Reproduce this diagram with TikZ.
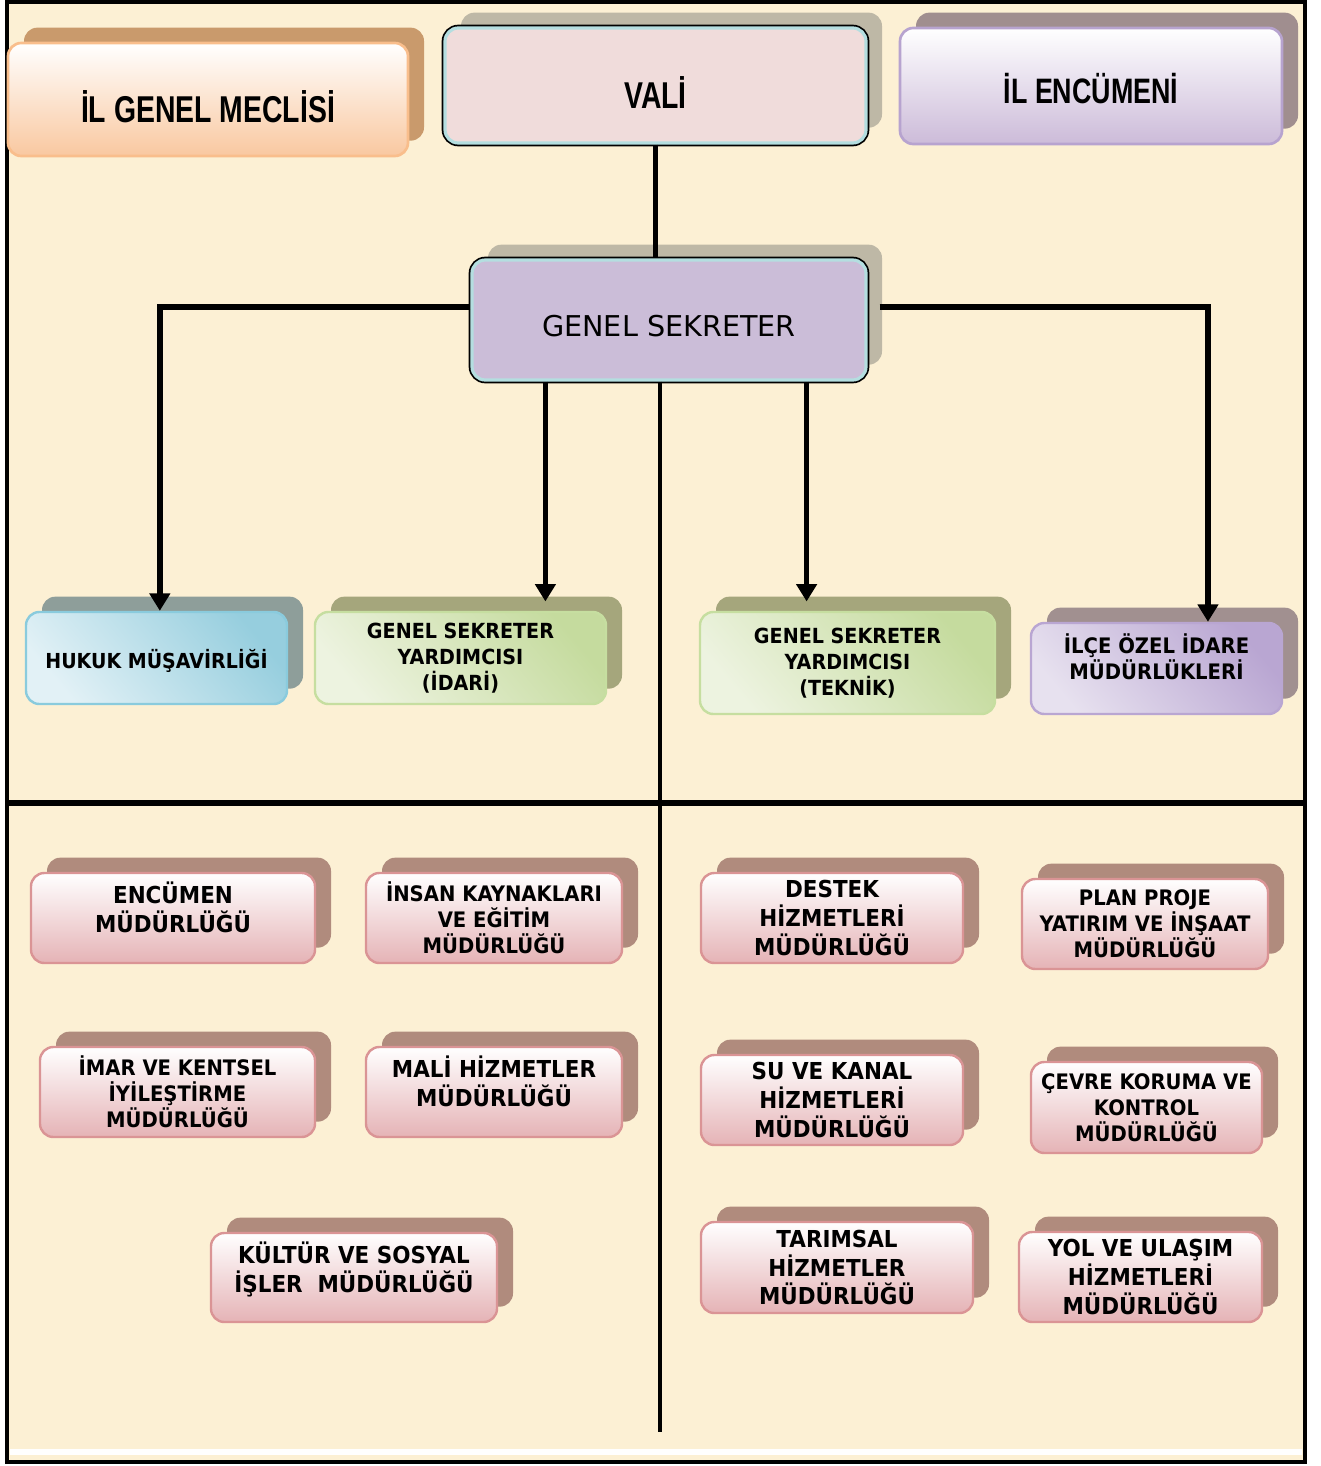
\documentclass[tikz,border=0pt]{standalone}
\usepackage{fontspec}
\newfontfamily\narrowfont{Liberation Sans}[FakeStretch=0.76]
\newfontfamily\boxfont{DejaVu Sans}[FakeStretch=0.92]
\newfontfamily\plainfont{DejaVu Sans}
\usetikzlibrary{arrows.meta,shadows}

% Colours
\definecolor{paper}{RGB}{252,240,212}
\definecolor{peach}{RGB}{249,200,160}
\definecolor{peachline}{RGB}{249,190,140}
\definecolor{peachshadow}{RGB}{201,154,108}
\definecolor{valifill}{RGB}{240,220,219}
\definecolor{cyanline}{RGB}{180,222,224}
\definecolor{greyshadow}{RGB}{190,184,166}
\definecolor{lilac}{RGB}{204,187,217}
\definecolor{lilacline}{RGB}{183,163,207}
\definecolor{mauveshadow}{RGB}{160,142,143}
\definecolor{gsfill}{RGB}{203,189,216}
\definecolor{bluedark}{RGB}{150,206,222}
\definecolor{bluelight}{RGB}{226,241,246}
\definecolor{blueline}{RGB}{138,203,221}
\definecolor{blueshadow}{RGB}{142,158,154}
\definecolor{greendark}{RGB}{197,219,158}
\definecolor{greenlight}{RGB}{237,243,224}
\definecolor{greenline}{RGB}{198,222,160}
\definecolor{greenshadow}{RGB}{165,166,124}
\definecolor{purpledark}{RGB}{185,166,210}
\definecolor{purplelight}{RGB}{231,225,239}
\definecolor{purpleshadow}{RGB}{161,144,144}
\definecolor{rose}{RGB}{229,179,182}
\definecolor{roseline}{RGB}{218,148,149}
\definecolor{roseshadow}{RGB}{176,139,125}

\tikzset{
	size/.style 2 args={minimum width=#1*0.75pt, minimum height=#2*0.75pt},
	card/.style={rounded corners=10pt, align=center, inner sep=2pt,
		general shadow={fill=#1, shadow xshift=12pt, shadow yshift=11.5pt}},
	topfont/.style={font=\narrowfont\bfseries\fontsize{28}{30}\selectfont},
	keycard/.style={card=greyshadow, preaction={draw=black, line width=5pt},
		draw=cyanline, line width=2.4pt},
	tint/.style 2 args={top color=#1, bottom color=#2, shading angle=-50},
	unitcard/.style={card=#1, line width=1.8pt,
		font=\boxfont\bfseries\fontsize{15.6}{19.5}\selectfont},
	office/.style={card=roseshadow, draw=roseline, line width=1.8pt,
		top color=white, bottom color=rose,
		font=\boxfont\bfseries\fontsize{17.5}{21.5}\selectfont},
	small/.style={font=\boxfont\bfseries\fontsize{16}{19.5}\selectfont},
	lifttext/.style={text depth=#1},
	link/.style={line width=4pt},
	arrow/.style={link, -{Triangle[width=15pt,length=13pt]}},
	divider/.style={line width=3pt}
}

\begin{document}
\begin{tikzpicture}[x=0.75pt, y=-0.75pt]
	\useasboundingbox (0,0) rectangle (1320,1466);
	
	% Paper and frame
	\fill[paper] (7,2) rectangle (1305,1462);
	\draw[white, line width=4.5pt] (10,1452) -- (1302,1452);
	\draw[line width=2.5pt] (7,2) rectangle (1305,1462);
	
	% Top row
	\node[card=peachshadow, topfont, draw=peachline, line width=2pt,
		top color=white, bottom color=peach, size={400}{113}, text height=35pt]
		(meclis) at (208,99.5) {İL GENEL MECLİSİ};
	\node[keycard, fill=valifill, topfont, size={421}{115}, text height=35pt]
		(vali) at (655.5,85.5) {VALİ};
	\node[card=mauveshadow, draw=lilacline, line width=2pt, top color=white,
		bottom color=lilac, font=\narrowfont\bfseries\fontsize{26.5}{30}\selectfont,
		size={382}{116}, text height=26pt]
		(encumeni) at (1091,86) {İL ENCÜMENİ};
	
	% Genel sekreter
	\node[keycard, fill=gsfill, font=\plainfont\fontsize{21.5}{26}\selectfont,
		size={394}{120}, text height=24.5pt] (gs) at (669,320) {GENEL SEKRETER};
	
	% Second row
	\node[unitcard=blueshadow, draw=blueline, tint={bluedark}{bluelight},
		font=\boxfont\bfseries\fontsize{15.5}{19.5}\selectfont,
		size={261}{92}, text height=19pt] (hukuk) at (156.5,658) {HUKUK MÜŞAVİRLİĞİ};
	\node[unitcard=greenshadow, draw=greenline, tint={greendark}{greenlight},
		size={291}{92}] (gsyi) at (460.5,658) {GENEL SEKRETER\\YARDIMCISI\\(İDARİ)};
	\node[unitcard=greenshadow, draw=greenline, tint={greendark}{greenlight},
		size={295}{102}] (gsyt) at (847.5,663) {GENEL SEKRETER\\YARDIMCISI\\(TEKNİK)};
	\node[unitcard=purpleshadow, draw=purpledark, tint={purpledark}{purplelight},
		font=\boxfont\bfseries\fontsize{16}{19.5}\selectfont, lifttext=18pt,
		size={251}{91}] (ilce) at (1156.5,668.5) {İLÇE ÖZEL İDARE\\MÜDÜRLÜKLERİ};
	
	% Directorates, left half
	\node[office, size={284}{90}, lifttext=16pt] (encumen) at (173,918)
		{ENCÜMEN\\MÜDÜRLÜĞÜ};
	\node[office, small, size={256}{90}] (insan) at (494,918)
		{İNSAN KAYNAKLARI\\VE EĞİTİM\\MÜDÜRLÜĞÜ};
	\node[office, small, size={275}{90}] (imar) at (177.5,1092)
		{İMAR VE KENTSEL\\İYİLEŞTİRME\\MÜDÜRLÜĞÜ};
	\node[office, size={256}{90}, lifttext=16pt] (mali) at (494,1092)
		{MALİ HİZMETLER\\MÜDÜRLÜĞÜ};
	\node[office, size={286}{89}, lifttext=16pt] (kultur) at (354,1277.5)
		{KÜLTÜR VE SOSYAL\\İŞLER~~MÜDÜRLÜĞÜ};
	
	% Directorates, right half
	\node[office, size={262}{90}] (destek) at (832,918)
		{DESTEK\\HİZMETLERİ\\MÜDÜRLÜĞÜ};
	\node[office, small, size={246}{90}] (plan) at (1145,924)
		{PLAN PROJE\\YATIRIM VE İNŞAAT\\MÜDÜRLÜĞÜ};
	\node[office, size={262}{90}] (su) at (832,1100)
		{SU VE KANAL\\HİZMETLERİ\\MÜDÜRLÜĞÜ};
	\node[office, small, size={231}{91}] (cevre) at (1146.5,1107.5)
		{ÇEVRE KORUMA VE\\KONTROL\\MÜDÜRLÜĞÜ};
	\node[office, size={272}{91}] (tarim) at (837,1267.5)
		{TARIMSAL\\HİZMETLER\\MÜDÜRLÜĞÜ};
	\node[office, size={243}{90}] (yol) at (1140.5,1277)
		{YOL VE ULAŞIM\\HİZMETLERİ\\MÜDÜRLÜĞÜ};
	
	% Dividers
	\coordinate (leftend) at (8,803);
	\coordinate (rightend) at (1305,803);
	\coordinate (bottomend) at (660,1432);
	\draw[line width=4pt] (leftend) -- (rightend);
	\draw[divider] (gs.south -| bottomend) -- (bottomend);
	
	% Connectors
	\draw[link] (vali.south) -- (vali.south |- gs.north);
	\draw[arrow] ([yshift=9.75pt]gs.west) -| ([xshift=2.5pt]hukuk.north);
	\draw[arrow] ([xshift=9pt,yshift=9.75pt]gs.east) -| ([xshift=38.6pt]ilce.north);
	\draw[arrow, shorten >=7pt] ([xshift=56.25pt]gs.south west)
		-- ([xshift=56.25pt]gs.south west |- gsyi.north);
	\draw[arrow, shorten >=7pt] ([xshift=-45.75pt]gs.south east)
		-- ([xshift=-45.75pt]gs.south east |- gsyt.north);
\end{tikzpicture}
\end{document}
